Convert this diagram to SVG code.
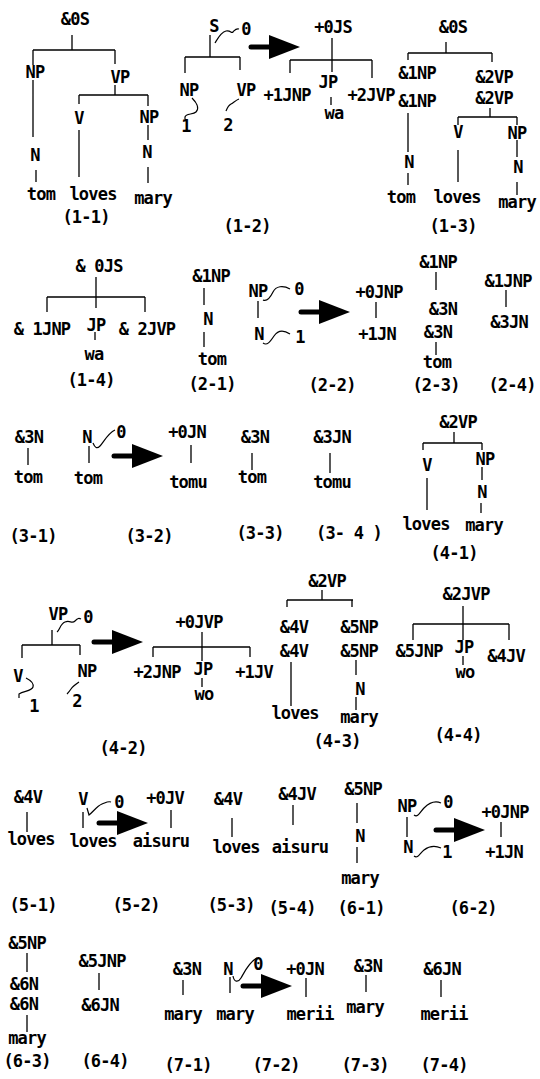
<svg xmlns="http://www.w3.org/2000/svg" width="540" height="1079" viewBox="0 0 540 1079">
<style>
text{font-family:"DejaVu Sans Mono","Liberation Mono",monospace;font-size:17px;letter-spacing:-0.8px;font-weight:bold;fill:#000;text-anchor:middle;white-space:pre}
#connectors path{stroke:#000;stroke-width:1.3;fill:none}
#connectors .sq{stroke-width:1.2}
</style>
<defs>
<g id="arrow"><line x1="-49" y1="0" x2="-29" y2="0" stroke="#000" stroke-width="5" stroke-linecap="round"/><polygon points="-31,-12 0,0 -31,12" fill="#000"/></g>
</defs>
<rect width="540" height="1079" fill="#fff"/>
<g id="connectors">
<!-- 1-1 -->
<path d="M72,35V50M33,50H115M33,50V65M115,50V64M33,80V137M36,170V182M115,85V95M79,95H148M79,95V104M148,95V106M79,130V177M148,125V140M148,167V183"/>
<!-- 1-2 -->
<path d="M210,35V57M185,57H240M185,57V73M240,57V70M332,38V72M290,60H372M290,60V73M372,60V78M331,97V105"/>
<path class="sq" d="M215,43C218,38 221,32 226,31S231,34 233,32S236,28 239,29"/>
<path class="sq" d="M192,98C196,102 200,108 196,112C193,115 186,113 185,117L185,119"/>
<path class="sq" d="M239,99C236,100 233,103 231,104S228,106 226,111"/>
<use href="#arrow" x="300" y="47"/>
<!-- 1-3 -->
<path d="M446,42V53M408,53H492M408,53V60M492,53V62M408,113V152M408,173V185M490,108V117M458,117H517M458,117V125M517,117V125M458,150V182M517,140V157M517,182V195"/>
<!-- 1-4 -->
<path d="M96,277V308M47,297H145M47,297V312M145,297V312M95,332V340"/>
<!-- 2-1 -->
<path d="M204,288V305M204,332V347"/>
<!-- 2-2 -->
<path d="M258,301V318M376,302V318"/>
<path class="sq" d="M263,300C267,302 270,298 273,292S283,285 290,289"/>
<path class="sq" d="M263,343C267,346 270,342 274,336S284,330 290,334"/>
<use href="#arrow" x="350" y="312"/>
<!-- 2-3 -->
<path d="M436,272V290M436,342V355"/>
<!-- 2-4 -->
<path d="M506,290V307"/>
<!-- 3-1 -->
<path d="M28,448V465"/>
<!-- 3-2 -->
<path d="M89,446V463M191,445V463"/>
<path class="sq" d="M93,443C95,448 97,449 100,446S108,433 115,430"/>
<use href="#arrow" x="163" y="456"/>
<!-- 3-3 -->
<path d="M252,453V470"/>
<!-- 3-4 -->
<path d="M330,453V473"/>
<!-- 4-1 -->
<path d="M454,432V443M423,443H482M423,443V450M482,443V450M427,478V510M482,467V480M481,503V513"/>
<!-- 4-2 -->
<path d="M52,630V645M22,645H80M22,645V658M80,645V655M202,632V661M153,647H250M153,647V657M250,647V657M202,678V687"/>
<path class="sq" d="M57,632C60,630 60,624 65,622S72,624 75,621S79,618 81,619"/>
<path class="sq" d="M26,678C30,680 34,683 33,687S24,691 19,694L19,698"/>
<path class="sq" d="M79,682C76,684 73,686 71,689S68,693 67,694"/>
<use href="#arrow" x="143" y="642"/>
<!-- 4-3 -->
<path d="M322,590V600M287,600H353M287,600V607M352,600V607M291,662V706M356,660V675M356,697V710"/>
<!-- 4-4 -->
<path d="M463,606V640M413,624H509M413,624V640M509,624V640M463,656V665"/>
<!-- 5-1 -->
<path d="M27,812V832"/>
<!-- 5-2 -->
<path d="M83,812V828M171,810V828"/>
<path class="sq" d="M87,808L89,815C93,812 97,806 102,804S108,801 111,802"/>
<use href="#arrow" x="148" y="823"/>
<!-- 5-3 -->
<path d="M232,818V837"/>
<!-- 5-4 -->
<path d="M293,805V825"/>
<!-- 6-1 -->
<path d="M357,803V823M357,847V863"/>
<!-- 6-2 -->
<path d="M407,817V837M501,822V837"/>
<path class="sq" d="M414,815C418,818 420,812 424,808S434,800 441,803"/>
<path class="sq" d="M414,856C418,859 420,853 424,850S434,845 441,848"/>
<use href="#arrow" x="485" y="830"/>
<!-- 6-3 -->
<path d="M27,953V972M27,1015V1032"/>
<!-- 6-4 -->
<path d="M99,973V990"/>
<!-- 7-1 -->
<path d="M183,980V995"/>
<!-- 7-2 -->
<path d="M230,977V993M306,978V997"/>
<path class="sq" d="M233,976C234,982 238,983 241,978S249,962 257,958"/>
<use href="#arrow" x="292" y="986"/>
<!-- 7-3 -->
<path d="M366,975V992"/>
<!-- 7-4 -->
<path d="M441,980V997"/>
</g>
<g id="fig-1-1">
<text x="75" y="25">&amp;0S</text><text x="35" y="78">NP</text><text x="120" y="83">VP</text>
<text x="35" y="161">N</text><text x="41" y="200">tom</text><text x="79" y="124">V</text>
<text x="93" y="200">loves</text><text x="149" y="123">NP</text><text x="147" y="158">N</text>
<text x="153" y="204">mary</text><text x="86" y="223">(1-1)</text>
</g>
<g id="fig-1-2">
<text x="214" y="32">S</text><text x="246" y="35">0</text><text x="189" y="96">NP</text>
<text x="186" y="132">1</text><text x="246" y="96">VP</text><text x="228" y="131">2</text>
<text x="333" y="33">+0JS</text><text x="287" y="101">+1JNP</text><text x="328" y="88">JP</text>
<text x="334" y="119">wa</text><text x="371" y="101">+2JVP</text><text x="247" y="232">(1-2)</text>
</g>
<g id="fig-1-3">
<text x="453" y="33">&amp;0S</text><text x="417" y="79">&amp;1NP</text><text x="417" y="107">&amp;1NP</text>
<text x="409" y="168">N</text><text x="401" y="203">tom</text><text x="494" y="83">&amp;2VP</text>
<text x="494" y="104">&amp;2VP</text><text x="458" y="138">V</text><text x="457" y="203">loves</text>
<text x="517" y="139">NP</text><text x="518" y="173">N</text><text x="517" y="208">mary</text>
<text x="453" y="232">(1-3)</text>
</g>
<g id="fig-1-4">
<text x="99" y="272">&amp; 0JS</text><text x="42" y="335">&amp; 1JNP</text><text x="96" y="331">JP</text>
<text x="147" y="335">&amp; 2JVP</text><text x="94" y="360">wa</text><text x="91" y="386">(1-4)</text>
</g>
<g id="fig-2-1">
<text x="211" y="282">&amp;1NP</text><text x="208" y="325">N</text><text x="212" y="365">tom</text><text x="212" y="390">(2-1)</text>
</g>
<g id="fig-2-2">
<text x="258" y="297">NP</text><text x="299" y="295">0</text><text x="259" y="340">N</text>
<text x="300" y="343">1</text><text x="379" y="298">+0JNP</text><text x="377" y="340">+1JN</text>
<text x="332" y="391">(2-2)</text>
</g>
<g id="fig-2-3">
<text x="438" y="268">&amp;1NP</text><text x="443" y="315">&amp;3N</text><text x="438" y="338">&amp;3N</text>
<text x="437" y="368">tom</text><text x="436" y="391">(2-3)</text>
</g>
<g id="fig-2-4">
<text x="508" y="287">&amp;1JNP</text><text x="509" y="328">&amp;3JN</text><text x="512" y="391">(2-4)</text>
</g>
<g id="fig-3-1">
<text x="29" y="443">&amp;3N</text><text x="28" y="483">tom</text><text x="33" y="542">(3-1)</text>
</g>
<g id="fig-3-2">
<text x="87" y="443">N</text><text x="121" y="438">0</text><text x="88" y="484">tom</text>
<text x="187" y="438">+0JN</text><text x="188" y="488">tomu</text><text x="149" y="542">(3-2)</text>
</g>
<g id="fig-3-3">
<text x="255" y="443">&amp;3N</text><text x="252" y="483">tom</text><text x="260" y="539">(3-3)</text>
</g>
<g id="fig-3-4">
<text x="332" y="443">&amp;3JN</text><text x="332" y="488">tomu</text><text x="349" y="539">(3- 4 )</text>
</g>
<g id="fig-4-1">
<text x="458" y="428">&amp;2VP</text><text x="427" y="471">V</text><text x="485" y="465">NP</text>
<text x="482" y="498">N</text><text x="426" y="530">loves</text><text x="484" y="531">mary</text>
<text x="454" y="559">(4-1)</text>
</g>
<g id="fig-4-2">
<text x="58" y="620">VP</text><text x="88" y="623">0</text><text x="18" y="682">V</text>
<text x="34" y="712">1</text><text x="87" y="677">NP</text><text x="77" y="707">2</text>
<text x="199" y="628">+0JVP</text><text x="157" y="678">+2JNP</text><text x="203" y="675">JP</text>
<text x="204" y="700">wo</text><text x="254" y="678">+1JV</text><text x="123" y="754">(4-2)</text>
</g>
<g id="fig-4-3">
<text x="327" y="587">&amp;2VP</text><text x="294" y="633">&amp;4V</text><text x="294" y="657">&amp;4V</text>
<text x="359" y="633">&amp;5NP</text><text x="359" y="657">&amp;5NP</text><text x="295" y="719">loves</text>
<text x="360" y="695">N</text><text x="359" y="723">mary</text><text x="337" y="747">(4-3)</text>
</g>
<g id="fig-4-4">
<text x="466" y="600">&amp;2JVP</text><text x="419" y="657">&amp;5JNP</text><text x="464" y="653">JP</text>
<text x="465" y="678">wo</text><text x="506" y="662">&amp;4JV</text><text x="458" y="741">(4-4)</text>
</g>
<g id="fig-5-1">
<text x="28" y="803">&amp;4V</text><text x="31" y="845">loves</text><text x="33" y="911">(5-1)</text>
</g>
<g id="fig-5-2">
<text x="83" y="805">V</text><text x="119" y="808">0</text><text x="93" y="847">loves</text>
<text x="165" y="804">+0JV</text><text x="161" y="847">aisuru</text><text x="136" y="911">(5-2)</text>
</g>
<g id="fig-5-3">
<text x="228" y="805">&amp;4V</text><text x="236" y="853">loves</text><text x="231" y="911">(5-3)</text>
</g>
<g id="fig-5-4">
<text x="297" y="800">&amp;4JV</text><text x="300" y="853">aisuru</text><text x="292" y="914">(5-4)</text>
</g>
<g id="fig-6-1">
<text x="363" y="795">&amp;5NP</text><text x="360" y="842">N</text><text x="360" y="884">mary</text><text x="361" y="914">(6-1)</text>
</g>
<g id="fig-6-2">
<text x="407" y="812">NP</text><text x="448" y="808">0</text><text x="408" y="853">N</text>
<text x="447" y="858">1</text><text x="505" y="818">+0JNP</text><text x="504" y="858">+1JN</text>
<text x="473" y="914">(6-2)</text>
</g>
<g id="fig-6-3">
<text x="27" y="949">&amp;5NP</text><text x="24" y="990">&amp;6N</text><text x="24" y="1010">&amp;6N</text>
<text x="27" y="1044">mary</text><text x="27" y="1067">(6-3)</text>
</g>
<g id="fig-6-4">
<text x="102" y="967">&amp;5JNP</text><text x="100" y="1011">&amp;6JN</text><text x="105" y="1067">(6-4)</text>
</g>
<g id="fig-7-1">
<text x="187" y="975">&amp;3N</text><text x="183" y="1020">mary</text><text x="188" y="1071">(7-1)</text>
</g>
<g id="fig-7-2">
<text x="228" y="975">N</text><text x="258" y="970">0</text><text x="235" y="1020">mary</text>
<text x="305" y="975">+0JN</text><text x="310" y="1020">merii</text><text x="276" y="1071">(7-2)</text>
</g>
<g id="fig-7-3">
<text x="368" y="972">&amp;3N</text><text x="365" y="1013">mary</text><text x="365" y="1071">(7-3)</text>
</g>
<g id="fig-7-4">
<text x="442" y="975">&amp;6JN</text><text x="444" y="1020">merii</text><text x="444" y="1071">(7-4)</text>
</g>
</svg>
